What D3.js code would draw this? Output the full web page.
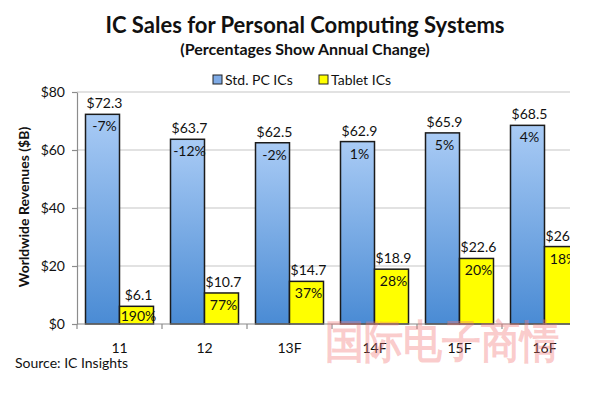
<!DOCTYPE html>
<html>
<head>
<meta charset="utf-8">
<script src="https://cdn.jsdelivr.net/npm/d3@7"></script>
<style>
  body { margin: 0; background: #fff; }
  svg text { font-family: Lato, "Open Sans", sans-serif; fill: #111; }
</style>
</head>
<body>
<div class="chart"></div>
<script>
// data
var years = ["11", "12", "13F", "14F", "15F", "16F"];
var seriesNames = ["Std. PC ICs", "Tablet ICs"];
var pcSales = [72.3, 63.7, 62.5, 62.9, 65.9, 68.5];
var tabletSales = [6.1, 10.7, 14.7, 18.9, 22.6, 26.7];
var pcChange = ["-7%", "-12%", "-2%", "1%", "5%", "4%"];
var tabletChange = ["190%", "77%", "37%", "28%", "20%", "18%"];
var yTicks = [0, 20, 40, 60, 80];

var widthSVG = 589;
var heightSVG = 395;

var plot = { left: 77, right: 587, top: 92, bottom: 324, clipRight: 570 };

var svg = d3.select(".chart")
  .append("svg")
  .attr("width", widthSVG)
  .attr("height", heightSVG);

svg.append("rect").attr("width", widthSVG).attr("height", heightSVG).attr("fill", "#fff");

// gradient for the PC bars
var defs = svg.append("defs");
var grad = defs.append("linearGradient")
  .attr("id", "blueGrad")
  .attr("x1", 0).attr("y1", 0).attr("x2", 0).attr("y2", 1);
grad.append("stop").attr("offset", "0%").attr("stop-color", "#a9cbf5");
grad.append("stop").attr("offset", "100%").attr("stop-color", "#4a8bd4");

defs.append("clipPath").attr("id", "plotClip")
  .append("rect")
  .attr("x", 0).attr("y", 0)
  .attr("width", plot.clipRight).attr("height", heightSVG);

// scales
var x0 = d3.scaleBand()
  .domain(years)
  .range([plot.left, plot.right])
  .paddingInner(0.2)
  .paddingOuter(0.1);

var x1 = d3.scaleBand()
  .domain(seriesNames)
  .range([0, x0.bandwidth()]);

var y = d3.scaleLinear()
  .domain([0, 80])
  .range([plot.bottom, plot.top]);

var color = d3.scaleOrdinal()
  .domain(seriesNames)
  .range(["url(#blueGrad)", "#ffff00"]);

var rows = years.map(function (yr, i) {
  return [
    { year: yr, key: seriesNames[0], value: pcSales[i], change: pcChange[i] },
    { year: yr, key: seriesNames[1], value: tabletSales[i], change: tabletChange[i] }
  ];
});

// title
svg.append("text")
  .attr("x", 305).attr("y", 33)
  .attr("text-anchor", "middle")
  .attr("font-size", 22).attr("font-weight", "bold")
  .text("IC Sales for Personal Computing Systems");

svg.append("text")
  .attr("x", 305).attr("y", 55)
  .attr("text-anchor", "middle")
  .attr("font-size", 16).attr("font-weight", "bold")
  .text("(Percentages Show Annual Change)");

// legend
var legendX = [213, 319];
var legend = svg.selectAll(".legend")
  .data(seriesNames)
  .enter().append("g")
  .attr("transform", (d, i) => `translate(${legendX[i]}, 75)`);
legend.append("rect")
  .attr("width", 9).attr("height", 9)
  .attr("fill", d => d === seriesNames[0] ? "#7fabe6" : "#ffff00")
  .attr("stroke", "#222").attr("stroke-width", 1);
legend.append("text")
  .attr("x", 12).attr("y", 9.5)
  .attr("font-size", 14)
  .text(d => d);

// gridlines
svg.append("g")
  .selectAll("line")
  .data(yTicks.slice(1))
  .enter().append("line")
  .attr("x1", plot.left).attr("x2", plot.clipRight)
  .attr("y1", d => y(d)).attr("y2", d => y(d))
  .attr("stroke", "#d9d9d9").attr("stroke-width", 1.5);

// y axis
var leftAxis = d3.axisLeft(y)
  .tickValues(yTicks)
  .tickFormat(d => "$" + d)
  .tickSize(5)
  .tickSizeOuter(0)
  .tickPadding(7);
var yAxisG = svg.append("g")
  .attr("transform", `translate(${plot.left}, 0)`)
  .call(leftAxis);
yAxisG.selectAll("path, line").attr("stroke", "#8c8c8c").attr("stroke-width", 1.2);
yAxisG.selectAll("text").attr("font-size", 14).attr("font-family", "Lato, sans-serif").attr("fill", "#111");

svg.append("text")
  .attr("transform", "rotate(-90)")
  .attr("x", -207).attr("y", 29)
  .attr("text-anchor", "middle")
  .attr("font-size", 14).attr("font-weight", "bold")
  .text("Worldwide Revenues ($B)");

// bars
var chartG = svg.append("g").attr("clip-path", "url(#plotClip)");

var groups = chartG.selectAll(".group")
  .data(rows)
  .enter().append("g")
  .attr("transform", d => `translate(${x0(d[0].year)}, 0)`);

groups.selectAll("rect")
  .data(d => d)
  .enter().append("rect")
  .attr("x", d => x1(d.key))
  .attr("y", d => y(d.value))
  .attr("width", x1.bandwidth())
  .attr("height", d => y(0) - y(d.value))
  .attr("fill", d => color(d.key))
  .attr("stroke", "#1b1b1b")
  .attr("stroke-width", 1.5);

// value labels above bars
groups.selectAll(".val")
  .data(d => d)
  .enter().append("text")
  .attr("class", "val")
  .attr("x", d => x1(d.key) + x1.bandwidth() / 2 + 2)
  .attr("y", d => y(d.value) - 6)
  .attr("text-anchor", "middle")
  .attr("font-size", 14)
  .text(d => "$" + d.value);

// percentage labels inside bars
groups.selectAll(".pct")
  .data(d => d)
  .enter().append("text")
  .attr("class", "pct")
  .attr("x", d => x1(d.key) + x1.bandwidth() / 2 + 2)
  .attr("y", d => Math.min(y(d.value) + 17, y(0) - 3))
  .attr("text-anchor", "middle")
  .attr("font-size", 14)
  .text(d => d.change);

// x axis
var bottomAxis = d3.axisBottom(x0)
  .tickSize(0)
  .tickPadding(19);
var xAxisG = svg.append("g")
  .attr("transform", `translate(0, ${plot.bottom})`)
  .call(bottomAxis);
xAxisG.select(".domain").remove();
xAxisG.selectAll("text").attr("font-size", 14).attr("font-family", "Lato, sans-serif").attr("fill", "#111");

xAxisG.append("line")
  .attr("x1", plot.left).attr("x2", plot.clipRight)
  .attr("stroke", "#8c8c8c").attr("stroke-width", 1.2);

// ticks between the year groups
var step = x0.step();
var edge = d => x0(d) - x0.paddingInner() * step / 2;
xAxisG.selectAll(".bt")
  .data(years)
  .enter().append("line")
  .attr("class", "bt")
  .attr("x1", edge)
  .attr("x2", edge)
  .attr("y1", 0).attr("y2", 5)
  .attr("stroke", "#8c8c8c").attr("stroke-width", 1.2);

// source note
svg.append("text")
  .attr("x", 15).attr("y", 368)
  .attr("font-size", 14)
  .text("Source: IC Insights");

// watermark
svg.append("text")
  .attr("transform", "translate(442, 357) scale(1, 1.15)")
  .attr("text-anchor", "middle")
  .attr("font-size", 39)
  .attr("font-weight", "bold")
  .attr("font-family", "Noto Sans CJK SC, sans-serif")
  .style("fill", "rgba(242,120,120,0.38)")
  .text("国际电子商情");
</script>
</body>
</html>
